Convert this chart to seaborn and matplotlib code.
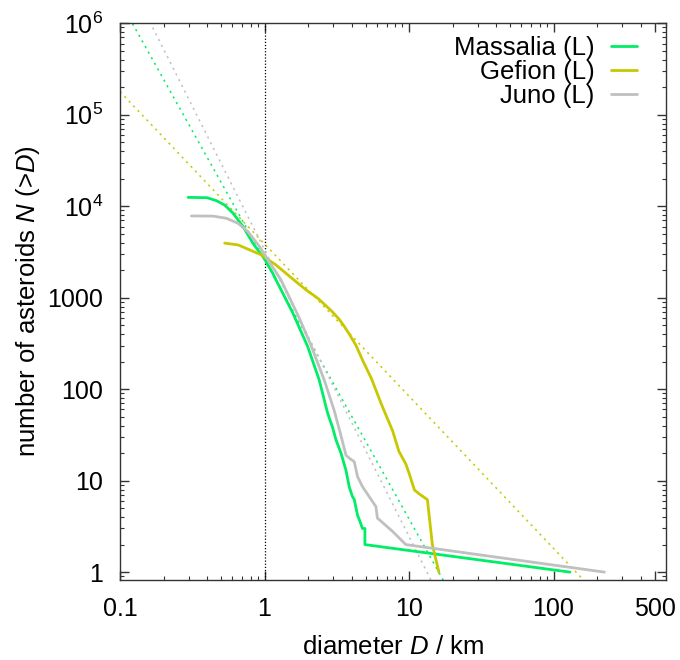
import numpy as np
import pandas as pd
import matplotlib
matplotlib.use("Agg")
import matplotlib.pyplot as plt
import seaborn as sns
from matplotlib.ticker import FixedLocator, FixedFormatter, NullFormatter

# ---------------- data ----------------
massalia_D = [0.296, 0.40, 0.465, 0.53, 0.605, 0.71, 0.83, 1.0, 1.14, 1.2, 1.57, 1.99,
              2.39, 2.73, 2.96, 3.12, 3.38, 3.66, 3.86, 4.06, 4.18, 4.40, 4.60, 4.76,
              4.95, 4.95, 130]
massalia_N = [12500, 12400, 11500, 10300, 8400, 6000, 3950, 2650, 1850, 1570, 680, 292,
              126, 55, 38, 28, 20, 13, 8.5, 6.7, 6.2, 4.2, 3.5, 3.0,
              3.0, 2.0, 1.0]

gefion_D = [0.53, 0.655, 0.79, 0.95, 1.2, 1.6, 1.94, 2.35, 2.9, 3.29, 3.55, 3.86, 4.3,
            4.76, 5.5, 6.45, 7.0, 7.7, 8.5, 9.5, 10.0, 10.9, 12.0, 13.4, 14.5, 16.1]
gefion_N = [3950, 3780, 3330, 2940, 2280, 1560, 1216, 980, 720, 580, 490, 400, 300,
            209, 130, 68, 50, 35, 21, 15.2, 12.1, 7.9, 7.0, 6.2, 2.0, 1.0]

juno_D = [0.312, 0.44, 0.544, 0.655, 0.767, 0.925, 1.08, 1.30, 1.74, 2.10, 2.59,
          3.04, 3.40, 3.66, 3.86, 4.18, 4.40, 4.76, 5.40, 5.90, 6.04, 7.67, 9.5, 225]
juno_N = [7830, 7800, 7390, 6520, 5270, 3610, 2450, 1566, 600, 300, 126,
          58, 30, 19, 17.6, 16.1, 11.1, 8.6, 6.4, 5.2, 3.9, 2.8, 2.0, 1.0]

# power-law fit lines (end points)
fit_massalia_D = [0.1, 20.5]
fit_massalia_N = [1.74e6, 0.5]
fit_gefion_D = [0.1, 217]
fit_gefion_N = [1.79e5, 0.5]
fit_juno_D = [0.1, 16.6]
fit_juno_N = [4.6e6, 0.5]

labels = ["Massalia (L)", "Gefion (L)", "Juno (L)"]
colors = ["#00ee66", "#c8c800", "#c0c0c0"]

x_ticks = [0.1, 1, 10, 100, 500]
x_ticklabels = ["0.1", "1", "10", "100", "500"]
y_ticks = [1, 10, 100, 1000, 1e4, 1e5, 1e6]
y_ticklabels = ["1", "10", "100", "1000", "10$^{4}$", "10$^{5}$", "10$^{6}$"]

# ---------------- style ----------------
sns.set_theme(style="ticks")
plt.rcParams["font.family"] = ["Liberation Sans", "DejaVu Sans"]
plt.rcParams["mathtext.fontset"] = "custom"
plt.rcParams["mathtext.rm"] = "Liberation Sans"
plt.rcParams["mathtext.it"] = "Liberation Sans:italic"
plt.rcParams["mathtext.default"] = "regular"
plt.rcParams["text.color"] = "black"
plt.rcParams["axes.labelcolor"] = "black"

fig = plt.figure(figsize=(6.8, 6.6), dpi=100)
ax = fig.add_axes([0.1765, 0.1212, 0.9794 - 0.1765, 0.9647 - 0.1212])

# fit lines (dotted)
for fd, fn, c in [(fit_massalia_D, fit_massalia_N, colors[0]),
                  (fit_gefion_D, fit_gefion_N, colors[1]),
                  (fit_juno_D, fit_juno_N, colors[2])]:
    ax.plot(fd, fn, color=c, lw=1.1, ls=(0, (1.4, 2.8)), zorder=2)

# vertical line at D = 1 km
ax.axvline(1, color="black", lw=0.9, ls=(0, (1, 1.5)), zorder=1)

# curves
frames = []
for lab, D, N in [(labels[0], massalia_D, massalia_N),
                  (labels[1], gefion_D, gefion_N),
                  (labels[2], juno_D, juno_N)]:
    frames.append(pd.DataFrame({"D": D, "N": N, "family": lab}))
df = pd.concat(frames, ignore_index=True)
sns.lineplot(data=df, x="D", y="N", hue="family", palette=dict(zip(labels, colors)),
             hue_order=labels, sort=False, estimator=None, lw=2.0, ax=ax, zorder=3)

ax.set_xscale("log")
ax.set_yscale("log")
ax.set_xlim(0.1, 600)
ax.set_ylim(0.82, 1e6)

ax.xaxis.set_major_locator(FixedLocator(x_ticks))
ax.xaxis.set_major_formatter(FixedFormatter(x_ticklabels))
ax.yaxis.set_major_locator(FixedLocator(y_ticks))
ax.yaxis.set_major_formatter(FixedFormatter(y_ticklabels))
ax.xaxis.set_minor_formatter(NullFormatter())
ax.yaxis.set_minor_formatter(NullFormatter())

ax.tick_params(which="both", direction="in", top=True, right=True, colors="#333333",
               labelcolor="black")
ax.tick_params(which="major", length=6.5, width=1.0, labelsize=18)
ax.tick_params(axis="x", which="major", pad=12)
ax.tick_params(axis="y", which="major", pad=12)
ax.tick_params(which="minor", length=3.2, width=0.8)
for s in ax.spines.values():
    s.set_color("#333333")
    s.set_linewidth(1.0)

ax.set_xlabel("diameter $\\mathit{D}$ / km", fontsize=18.5, labelpad=10)
ax.set_ylabel("number of asteroids $\\mathit{N}$ (>$\\mathit{D}$)", fontsize=18.5, labelpad=4)

handles, labs = ax.get_legend_handles_labels()
leg = ax.legend(handles, labs, loc="upper right", frameon=False, fontsize=18.5,
                markerfirst=False, handlelength=1.0, handletextpad=0.65,
                labelspacing=0.0, borderaxespad=0.1, bbox_to_anchor=(0.97, 1.0))

fig.savefig("out.png", dpi=100)
